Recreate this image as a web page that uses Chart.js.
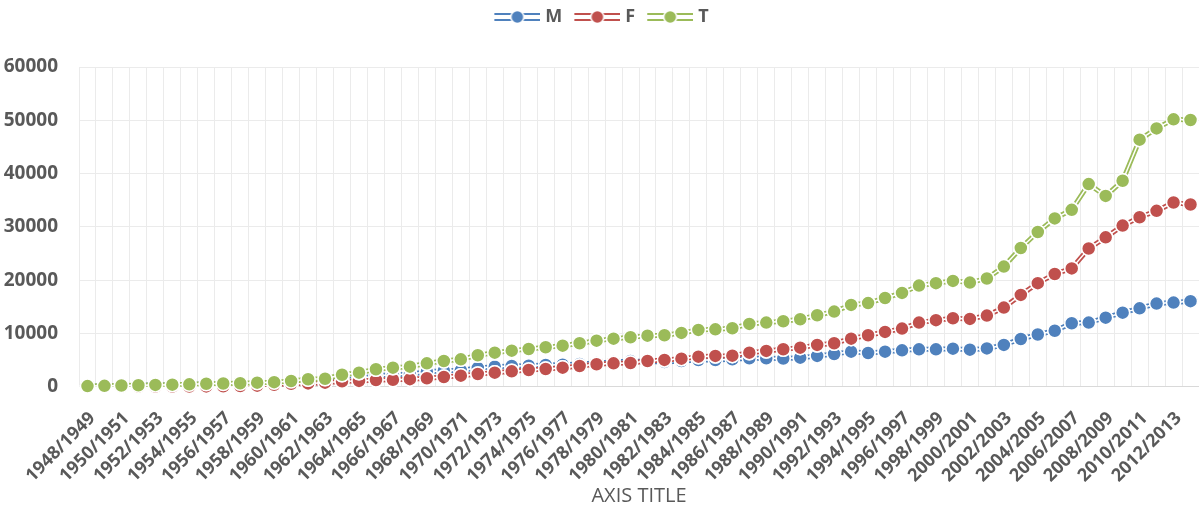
<!DOCTYPE html>
<html>
<head>
<meta charset="utf-8">
<script src="https://cdn.jsdelivr.net/npm/chart.js@4"></script>
<style>
  html, body { margin: 0; padding: 0; background: #fff; }
  #wrap { width: 1199px; height: 513px; position: relative; }
</style>
</head>
<body>
<div id="wrap"><canvas id="enrolmentChart"></canvas></div>
<script>
// academic years
const years = [
  "1948/1949", "1949/1950", "1950/1951", "1951/1952", "1952/1953", "1953/1954",
  "1954/1955", "1955/1956", "1956/1957", "1957/1958", "1958/1959", "1959/1960",
  "1960/1961", "1961/1962", "1962/1963", "1963/1964", "1964/1965", "1965/1966",
  "1966/1967", "1967/1968", "1968/1969", "1969/1970", "1970/1971", "1971/1972",
  "1972/1973", "1973/1974", "1974/1975", "1975/1976", "1976/1977", "1977/1978",
  "1978/1979", "1979/1980", "1980/1981", "1981/1982", "1982/1983", "1983/1984",
  "1984/1985", "1985/1986", "1986/1987", "1987/1988", "1988/1989", "1989/1990",
  "1990/1991", "1991/1992", "1992/1993", "1993/1994", "1994/1995", "1995/1996",
  "1996/1997", "1997/1998", "1998/1999", "1999/2000", "2000/2001", "2001/2002",
  "2002/2003", "2003/2004", "2004/2005", "2005/2006", "2006/2007", "2007/2008",
  "2008/2009", "2009/2010", "2010/2011", "2011/2012", "2012/2013", "2013/2014"
];

const maleValues = [
  100, 150, 200, 250, 300, 350, 430, 500, 520, 530, 550, 500,
  520, 770, 750, 1250, 1550, 2020, 2270, 2340, 2810, 3010, 3070, 3510,
  3760, 3880, 3940, 4070, 4130, 4260, 4430, 4630, 4830, 4750, 4640, 4830,
  5010, 5000, 5140, 5330, 5330, 5300, 5450, 5770, 6140, 6580, 6330, 6580,
  6830, 7020, 7020, 7140, 6950, 7180, 7840, 8950, 9800, 10500, 11900, 12030,
  12950, 13900, 14700, 15600, 15790, 16050
];

const femaleValues = [
  10, 10, 20, 20, 30, 30, 20, 50, 80, 120, 200, 350,
  550, 620, 750, 1000, 1080, 1250, 1300, 1420, 1580, 1820, 2070, 2390,
  2630, 2890, 3140, 3330, 3570, 3890, 4210, 4390, 4450, 4830, 5020, 5260,
  5640, 5770, 5830, 6390, 6710, 7030, 7330, 7840, 8150, 9020, 9660, 10280,
  10900, 12030, 12480, 12850, 12720, 13350, 14850, 17230, 19430, 21150, 22200, 25930,
  28030, 30230, 31800, 33000, 34570, 34200
];

const totalValues = [
  110, 160, 220, 270, 330, 380, 450, 550, 600, 650, 750, 850,
  1070, 1390, 1500, 2250, 2630, 3270, 3570, 3760, 4390, 4830, 5140, 5900,
  6390, 6770, 7080, 7400, 7700, 8150, 8640, 9020, 9280, 9580, 9660, 10090,
  10650, 10770, 10970, 11780, 12030, 12280, 12660, 13410, 14100, 15350, 15700, 16650,
  17600, 18980, 19430, 19860, 19540, 20300, 22550, 26030, 29030, 31580, 33200, 38030,
  35800, 38650, 46360, 48480, 50180, 50050
];

const yMax = 60000;
const yStep = 10000;

const seriesColors = ["#4F81BD", "#C0504D", "#9BBB59"];
const textGrey = "#595959";
const fontFamily = "'Open Sans', 'DejaVu Sans', sans-serif";

// "double line + marker" legend symbol; the blank strip on the left
// spaces the items apart
function legendIcon(color) {
  const c = document.createElement("canvas");
  c.width = 54;
  c.height = 16;
  const g = c.getContext("2d");
  g.strokeStyle = color;
  g.lineWidth = 2;
  [5, 11].forEach(function (y) {
    g.beginPath();
    g.moveTo(8, y);
    g.lineTo(54, y);
    g.stroke();
  });
  g.beginPath();
  g.arc(31, 8, 6.5, 0, Math.PI * 2);
  g.fillStyle = color;
  g.fill();
  g.strokeStyle = "#ffffff";
  g.lineWidth = 1.5;
  g.stroke();
  return c;
}
const legendIcons = seriesColors.map(legendIcon);

function series(label, data, color, order) {
  return {
    label: label,
    data: data,
    order: order,
    borderColor: color,
    backgroundColor: color,
    borderWidth: 5,
    tension: 0,
    pointStyle: "circle",
    pointRadius: 7,
    pointHoverRadius: 7,
    pointBackgroundColor: color,
    pointBorderColor: "#ffffff",
    pointBorderWidth: 1.5
  };
}

// white stroke down the middle of each line gives the double-line look,
// then the markers are painted again on top of it
const doubleLine = {
  id: "doubleLine",
  afterDatasetDraw(chart, args) {
    const pts = args.meta.data;
    const ctx = chart.ctx;
    ctx.save();
    ctx.strokeStyle = "#ffffff";
    ctx.lineWidth = 1.5;
    ctx.beginPath();
    pts.forEach(function (p, i) {
      if (i === 0) ctx.moveTo(p.x, p.y);
      else ctx.lineTo(p.x, p.y);
    });
    ctx.stroke();
    ctx.restore();
    pts.forEach(function (p) {
      p.draw(ctx, chart.chartArea);
    });
  }
};

// extra room under the legend
const legendGap = {
  id: "legendGap",
  beforeInit(chart) {
    const fit = chart.legend.fit;
    chart.legend.fit = function () {
      fit.call(this);
      this.height += 31;
    };
  }
};

const ctx = document.getElementById("enrolmentChart").getContext("2d");

const enrolmentChart = new Chart(ctx, {
  type: "line",
  data: {
    labels: years,
    datasets: [
      series("M", maleValues, seriesColors[0], 3),
      series("F", femaleValues, seriesColors[1], 2),
      series("T", totalValues, seriesColors[2], 1)
    ]
  },
  options: {
    responsive: true,
    maintainAspectRatio: false,
    animation: false,
    layout: { padding: 0, autoPadding: false },
    scales: {
      x: {
        offset: true,
        grid: {
          offset: true,
          color: "#ebebeb",
          lineWidth: 1,
          drawTicks: false
        },
        border: { color: "#d9d9d9" },
        ticks: {
          autoSkip: false,
          maxRotation: 45,
          minRotation: 45,
          padding: 21,
          labelOffset: 5,
          color: textGrey,
          font: { family: fontFamily, size: 18, weight: "bold" },
          callback: function (val, idx) {
            return idx % 2 === 0 ? this.getLabelForValue(val) : "";
          }
        },
        title: {
          display: true,
          text: "AXIS TITLE",
          color: textGrey,
          font: { family: fontFamily, size: 20 },
          padding: { top: 0, bottom: 5 }
        },
        afterFit: function (scale) {
          scale.height = 126.3;
          // plot runs right up to the canvas edge
          scale.paddingLeft = 0;
          scale.paddingRight = 0;
        }
      },
      y: {
        min: 0,
        max: yMax,
        grid: {
          color: "#ebebeb",
          lineWidth: 1,
          drawTicks: false
        },
        border: { display: false },
        ticks: {
          stepSize: yStep,
          padding: 21,
          color: textGrey,
          font: { family: fontFamily, size: 19, weight: "bold" },
          callback: function (val) {
            return String(val);
          }
        },
        afterFit: function (scale) {
          scale.width = 79;
        }
      }
    },
    plugins: {
      legend: {
        position: "top",
        labels: {
          usePointStyle: true,
          pointStyleWidth: 46,
          padding: 8,
          color: textGrey,
          font: { family: fontFamily, size: 18, weight: "bold" },
          sort: function (a, b) {
            return a.datasetIndex - b.datasetIndex;
          },
          generateLabels: function (chart) {
            const items = Chart.defaults.plugins.legend.labels.generateLabels(chart);
            items.forEach(function (it) {
              it.pointStyle = legendIcons[it.datasetIndex];
            });
            return items;
          }
        }
      },
      tooltip: { enabled: false }
    }
  },
  plugins: [doubleLine, legendGap]
});
</script>
</body>
</html>
